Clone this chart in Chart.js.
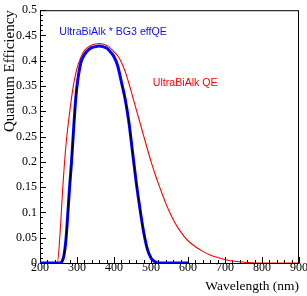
<!DOCTYPE html>
<html>
<head>
<meta charset="utf-8">
<script src="https://cdn.jsdelivr.net/npm/chart.js@4"></script>
<style>
  body { margin: 0; background: #fff; }
  canvas { display: block; }
</style>
</head>
<body>
<canvas id="qe" width="307" height="296"></canvas>
<script>
// UltraBiAlk QE (red)
const redWl = [200, 247, 254, 262, 270, 280, 290, 300, 310, 320, 330, 340, 350, 360, 370, 380, 390, 400, 410, 420, 430, 440, 450, 460, 470, 480, 490, 500, 510, 520, 530, 540, 550, 560, 570, 580, 590, 600, 620, 640, 660, 680, 700, 720, 740, 760, 780, 900];
const redQE = [0, 0, 0.057, 0.154, 0.232, 0.297, 0.35, 0.385, 0.406, 0.42, 0.427, 0.431, 0.433, 0.434, 0.433, 0.43, 0.425, 0.418, 0.41, 0.397, 0.379, 0.356, 0.33, 0.304, 0.278, 0.252, 0.226, 0.201, 0.178, 0.157, 0.137, 0.118, 0.101, 0.086, 0.073, 0.062, 0.052, 0.044, 0.032, 0.023, 0.016, 0.011, 0.007, 0.004, 0.0025, 0.001, 0, 0];

// UltraBiAlk * BG3 effQE (blue)
const blueWl = [200, 250, 255, 260, 265, 270, 275, 280, 285, 290, 295, 300, 310, 320, 330, 340, 350, 360, 370, 380, 390, 400, 410, 420, 430, 440, 450, 460, 470, 480, 490, 500, 510, 520, 600];
const blueQE = [0, 0, 0, 0.004, 0.016, 0.045, 0.095, 0.15, 0.198, 0.255, 0.31, 0.35, 0.395, 0.412, 0.421, 0.426, 0.428, 0.429, 0.428, 0.425, 0.418, 0.408, 0.39, 0.358, 0.325, 0.28, 0.22, 0.16, 0.108, 0.062, 0.028, 0.01, 0.003, 0, 0];

const xTicks = [200, 300, 400, 500, 600, 700, 800, 900];
const yTicks = [0, 0.05, 0.1, 0.15, 0.2, 0.25, 0.3, 0.35, 0.4, 0.45, 0.5];

function toPoints(xs, ys) {
  return xs.map((x, i) => ({x: x, y: ys[i]}));
}

// black core line shows only on the steep flanks of the blue curve
const blackPts = toPoints(blueWl, blueQE).map(p =>
  (p.x >= 258 && p.x <= 300) || (p.x >= 415 && p.x <= 505) ? p : {x: p.x, y: null});

const serif = '"Liberation Serif", "DejaVu Serif", serif';

// frame, inward ticks and the two curve labels
const rootStyle = {
  id: 'rootStyle',
  beforeDatasetsDraw(chart) {
    const {ctx, chartArea: a, scales: {x, y}} = chart;
    ctx.save();
    ctx.strokeStyle = '#000';
    ctx.lineWidth = 1;
    ctx.strokeRect(a.left + 0.5, a.top + 0.5, a.right - a.left - 1, a.bottom - a.top);
    ctx.beginPath();
    for (let v = 200; v <= 900; v += 20) {
      const px = Math.round(x.getPixelForValue(v)) + 0.5;
      const len = v % 100 === 0 ? 6 : 3;
      ctx.moveTo(px, a.bottom);
      ctx.lineTo(px, a.bottom - len);
    }
    for (let i = 0; i <= 50; i++) {
      const py = Math.round(y.getPixelForValue(i / 100)) + 0.5;
      const len = i % 5 === 0 ? 6 : 3;
      ctx.moveTo(a.left, py);
      ctx.lineTo(a.left + len, py);
    }
    ctx.stroke();
    ctx.restore();
  },
  afterDatasetsDraw(chart) {
    const {ctx, scales: {x, y}} = chart;
    ctx.save();
    ctx.font = '10.6px "Liberation Sans", Arial, sans-serif';
    ctx.textBaseline = 'middle';
    ctx.fillStyle = '#1010ff';
    ctx.fillText('UltraBiAlk * BG3 effQE', x.getPixelForValue(252), y.getPixelForValue(0.457));
    ctx.fillStyle = '#ff0000';
    ctx.fillText('UltraBiAlk QE', x.getPixelForValue(505), y.getPixelForValue(0.355));
    ctx.restore();
  }
};

new Chart(document.getElementById('qe'), {
  type: 'scatter',
  data: {
    datasets: [
      {
        label: 'black',
        data: blackPts,
        showLine: true,
        borderColor: '#000',
        borderWidth: 1,
        pointRadius: 0,
        cubicInterpolationMode: 'monotone',
        spanGaps: false,
        order: 1
      },
      {
        label: 'UltraBiAlk * BG3 effQE',
        data: toPoints(blueWl, blueQE),
        showLine: true,
        borderColor: '#0000ff',
        borderWidth: 3,
        pointRadius: 0,
        cubicInterpolationMode: 'monotone',
        order: 2
      },
      {
        label: 'UltraBiAlk QE',
        data: toPoints(redWl, redQE),
        showLine: true,
        borderColor: '#ff0000',
        borderWidth: 1.1,
        pointRadius: 0,
        cubicInterpolationMode: 'monotone',
        order: 3
      }
    ]
  },
  options: {
    responsive: false,
    animation: false,
    devicePixelRatio: 1,
    layout: { padding: { top: 4, right: 8, left: 0, bottom: 0 } },
    plugins: { legend: { display: false }, tooltip: { enabled: false } },
    scales: {
      x: {
        type: 'linear',
        min: 200,
        max: 900,
        afterFit: s => { s.height = 33; },
        afterBuildTicks: s => { s.ticks = xTicks.map(v => ({value: v})); },
        grid: { display: false, drawTicks: false },
        border: { display: false },
        ticks: { font: { family: serif, size: 12 }, color: '#000', padding: -2, maxRotation: 0, autoSkip: false },
        title: { display: true, text: 'Wavelength (nm)', align: 'end', color: '#000', font: { family: serif, size: 13.5 }, padding: { top: 0, bottom: 1 } }
      },
      y: {
        min: 0,
        max: 0.5,
        afterFit: s => { s.width = 40; },
        afterBuildTicks: s => { s.ticks = yTicks.map(v => ({value: v})); },
        grid: { display: false, drawTicks: false },
        border: { display: false },
        ticks: {
          font: { family: serif, size: 12 }, color: '#000', padding: 3,
          callback: v => String(Number(v.toFixed(2)))
        },
        title: { display: true, text: 'Quantum Efficiency', align: 'end', color: '#000', font: { family: serif, size: 15 }, padding: { top: 1, bottom: 0 } }
      }
    }
  },
  plugins: [rootStyle]
});
</script>
</body>
</html>
